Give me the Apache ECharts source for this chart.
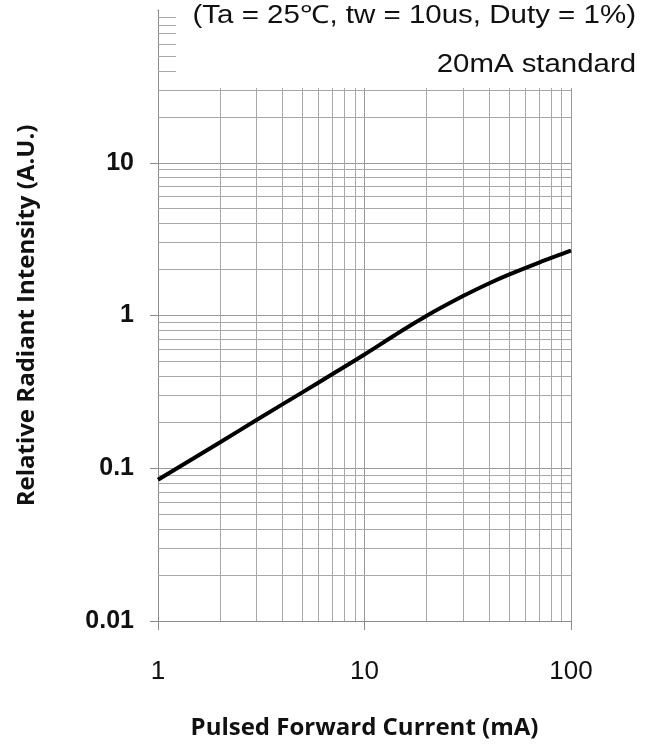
<!DOCTYPE html>
<html>
<head>
<meta charset="utf-8">
<script src="https://cdn.jsdelivr.net/npm/echarts@6/dist/echarts.min.js"></script>
<style>html,body{margin:0;padding:0;background:#fff}#c{width:651px;height:745px}</style>
</head>
<body>
<div id="c"></div>
<script>
// Data
const currentMA = [1, 2, 3, 5, 7, 10, 14, 20, 30, 40, 50, 70, 100];
const intensity = [0.084, 0.148, 0.207, 0.314, 0.414, 0.556, 0.743, 0.996, 1.34, 1.62, 1.85, 2.22, 2.66];
const minorX = [2,3,4,5,6,7,8,9,20,30,40,50,60,70,80,90];
const minorY = [0.02,0.03,0.04,0.05,0.06,0.07,0.08,0.09,0.2,0.3,0.4,0.5,0.6,0.7,0.8,0.9,2,3,4,5,6,7,8,9,20,30,40,50,60,70,80,90];
const xTickLabels = {1:'1', 10:'10', 100:'100'};
const yTickLabels = {0.01:'0.01', 0.1:'0.1', 1:'1', 10:'10', 100:''};
const titleText = '(Ta = 25\u2103, tw = 10us, Duty = 1%)';
const subText = '20mA standard';

const chart = echarts.init(document.getElementById('c'), null, {renderer:'canvas'});
const gridColor = '#a8a8a8';
const axisColor = '#8c8c8c';
const option = {
  animation: false,
  backgroundColor: '#fff',
  grid: {left: 158, right: 80, top: 10, bottom: 122, containLabel: false},
  xAxis: {
    type: 'log', logBase: 10, min: 1, max: 100,
    name: 'Pulsed Forward Current (mA)', nameLocation: 'middle', nameGap: 95,
    nameTextStyle: {fontFamily: 'Open Sans', fontWeight: 'bold', fontSize: 24, color: '#111'},
    axisLine: {show: true, lineStyle: {color: axisColor, width: 1}},
    axisTick: {show: true, length: 9, lineStyle: {color: axisColor}},
    axisLabel: {margin: 38, fontFamily: 'Liberation Sans', fontSize: 26, color: '#111',
      formatter: v => xTickLabels[Math.round(v)] || ''},
    splitLine: {show: true, lineStyle: {color: '#999', width: 1}}
  },
  yAxis: {
    type: 'log', logBase: 10, min: 0.01, max: 100,
    name: 'Relative Radiant Intensity (A.U.)', nameLocation: 'middle', nameGap: 119,
    nameTextStyle: {fontFamily: 'Open Sans', fontWeight: 'bold', fontSize: 24, color: '#111'},
    axisLine: {show: true, lineStyle: {color: axisColor, width: 1}},
    axisTick: {show: true, length: 8, lineStyle: {color: axisColor}},
    axisLabel: {margin: 24, fontFamily: 'Liberation Sans', fontWeight: 'bold', fontSize: 25, color: '#111',
      formatter: v => { const k = Object.keys(yTickLabels).find(t => Math.abs(Math.log10(+t) - Math.log10(v)) < 1e-6); return k !== undefined ? yTickLabels[k] : ''; }},
    splitLine: {show: true, lineStyle: {color: '#999', width: 1}}
  },
  series: [
    {
      type: 'line', name: 'minor grid', z: 1, silent: true,
      data: currentMA.map((x, i) => [x, intensity[i]]),
      showSymbol: false, lineStyle: {opacity: 0},
      markLine: {
        silent: true, symbol: ['none', 'none'], animation: false,
        label: {show: false},
        lineStyle: {color: gridColor, width: 1, type: 'solid'},
        emphasis: {disabled: true},
        data: minorX.map(v => ({xAxis: v})).concat(minorY.map(v => ({yAxis: v})))
      }
    },
    {
      type: 'line', name: 'curve', z: 5, smooth: 0.3,
      data: currentMA.map((x, i) => [x, intensity[i]]),
      showSymbol: false,
      lineStyle: {color: '#000', width: 4}
    }
  ],
  graphic: [
    {type: 'rect', z: 100, shape: {x: 176, y: 0, width: 475, height: 88}, style: {fill: '#fff'}},
    {type: 'rect', z: 100, shape: {x: 140, y: 6, width: 17.5, height: 7}, style: {fill: '#fff'}},
    {type: 'rect', z: 100, shape: {x: 159.2, y: 6, width: 20, height: 7}, style: {fill: '#fff'}},
    {type: 'text', z: 101, x: 636, y: 16, scaleX: 1.18, style: {text: titleText, align: 'right', verticalAlign: 'middle',
      font: '25px "Liberation Sans"', fill: '#111'}},
    {type: 'text', z: 101, x: 636, y: 65, scaleX: 1.13, style: {text: subText, align: 'right', verticalAlign: 'middle',
      font: '26px "Liberation Sans"', fill: '#111'}}
  ]
};
chart.setOption(option);
</script>
</body>
</html>
